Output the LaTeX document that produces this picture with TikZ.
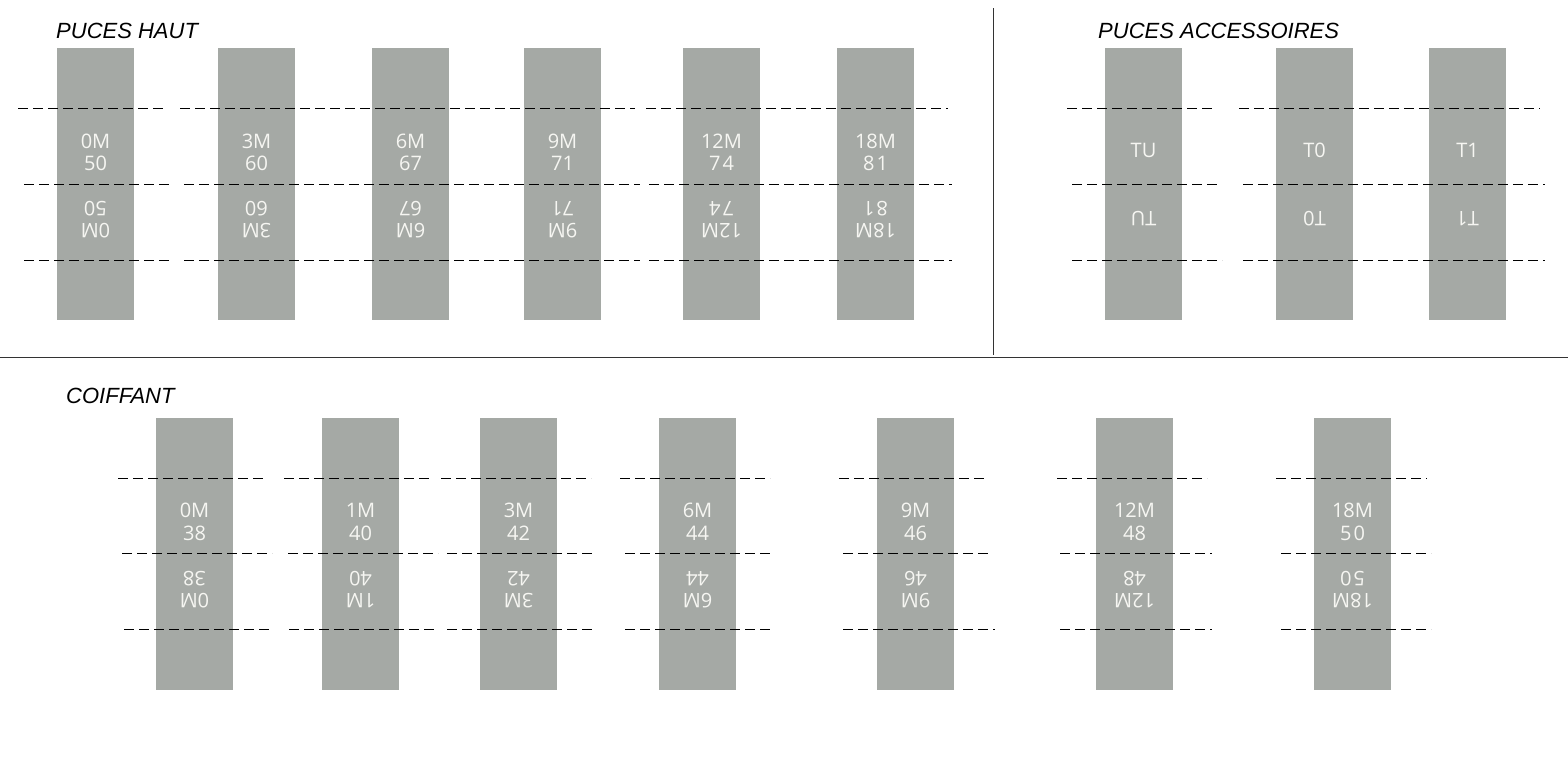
\documentclass[tikz,border=0pt]{standalone}
\usepackage{fontspec}
\setmainfont{Liberation Sans}
\newfontfamily\labfont{Open Sans}
\definecolor{chip}{RGB}{165,169,165}
\definecolor{labwhite}{RGB}{246,246,242}
\begin{document}
\begin{tikzpicture}[x=1pt,y=-1pt,
  chipbox/.style={fill=chip, draw=none, inner sep=0pt, minimum width=77pt, minimum height=272pt, anchor=north west},
  lab/.style={text=labwhite, font=\labfont\fontsize{20}{20}\selectfont, inner sep=0pt, anchor=base, xshift=38.5pt},
  labinv/.style={lab, rotate=180},
  cut/.style={dash pattern=on 10pt off 5pt, line width=1pt, black},
  title/.style={font=\itshape\fontsize{22}{22}\selectfont, anchor=base west, inner sep=0pt},
  rule/.style={line width=1pt, black!80}]
\useasboundingbox[fill=white] (0,0) rectangle (1568,756);

% frame rules
\draw[rule] (993,8) -- (993,355);
\draw[rule] (0,357) -- (1568,357);

% titles
\node[title] (t1) at (56,38) {PUCES HAUT};
\node[title] (t2) at (1098,38) {PUCES ACCESSOIRES};
\node[title] (t3) at (66,403) {COIFFANT};

% PUCES HAUT
\foreach \x/\n/\a/\b in {57/h1/0M/50, 218/h2/3M/60, 372/h3/6M/67, 524/h4/9M/71, 683/h5/12M/7\kern2pt4, 837/h6/18M/8\kern2pt1}{
  \node[chipbox] (\n) at (\x,48) {};
  \node[lab] (\n a) at (\x,148) {\a};
  \node[lab] (\n b) at (\x,170) {\b};
  \node[labinv] (\n c) at (\x,201) {\b};
  \node[labinv] (\n d) at (\x,223) {\a};
}

% PUCES ACCESSOIRES
\foreach \x/\n/\a in {1105/p1/TU, 1276/p2/T0, 1429/p3/T1}{
  \node[chipbox] (\n) at (\x,48) {};
  \node[lab] (\n a) at (\x,157) {\a};
  \node[labinv] (\n b) at (\x,211) {\a};
}

% COIFFANT
\foreach \x/\n/\a/\b in {156/c1/0M/38, 322/c2/1M/40, 480/c3/3M/42, 659/c4/6M/44, 877/c5/9M/46, 1096/c6/12M/48, 1314/c7/18M/5\kern2pt0}{
  \node[chipbox] (\n) at (\x,418) {};
  \node[lab] (\n a) at (\x,517) {\a};
  \node[lab] (\n b) at (\x,540) {\b};
  \node[labinv] (\n c) at (\x,571) {\b};
  \node[labinv] (\n d) at (\x,593) {\a};
}

% dashed cut lines, top
\foreach \y/\a/\b in {108/18/167, 108/180/635, 108/646/948, 108/1067/1215, 108/1239/1540,
                      184/24/173, 184/184/640, 184/649/952, 184/1072/1220, 184/1243/1545,
                      260/24/173, 260/184/640, 260/649/952, 260/1072/1222, 260/1243/1545}{
  \draw[cut] (\a,\y) -- (\b,\y);
}
% dashed cut lines, bottom
\foreach \y/\a/\b in {478/118/267, 478/284/433, 478/441/591, 478/620/770, 478/839/988, 478/1057/1207, 478/1276/1427,
                      553/122/272, 553/288/438, 553/447/596, 553/625/774, 553/843/992, 553/1060/1212, 553/1281/1431,
                      629/124/273, 629/289/438, 629/447/596, 629/625/774, 629/843/995, 629/1060/1212, 629/1281/1431}{
  \draw[cut] (\a,\y) -- (\b,\y);
}
\end{tikzpicture}
\end{document}
